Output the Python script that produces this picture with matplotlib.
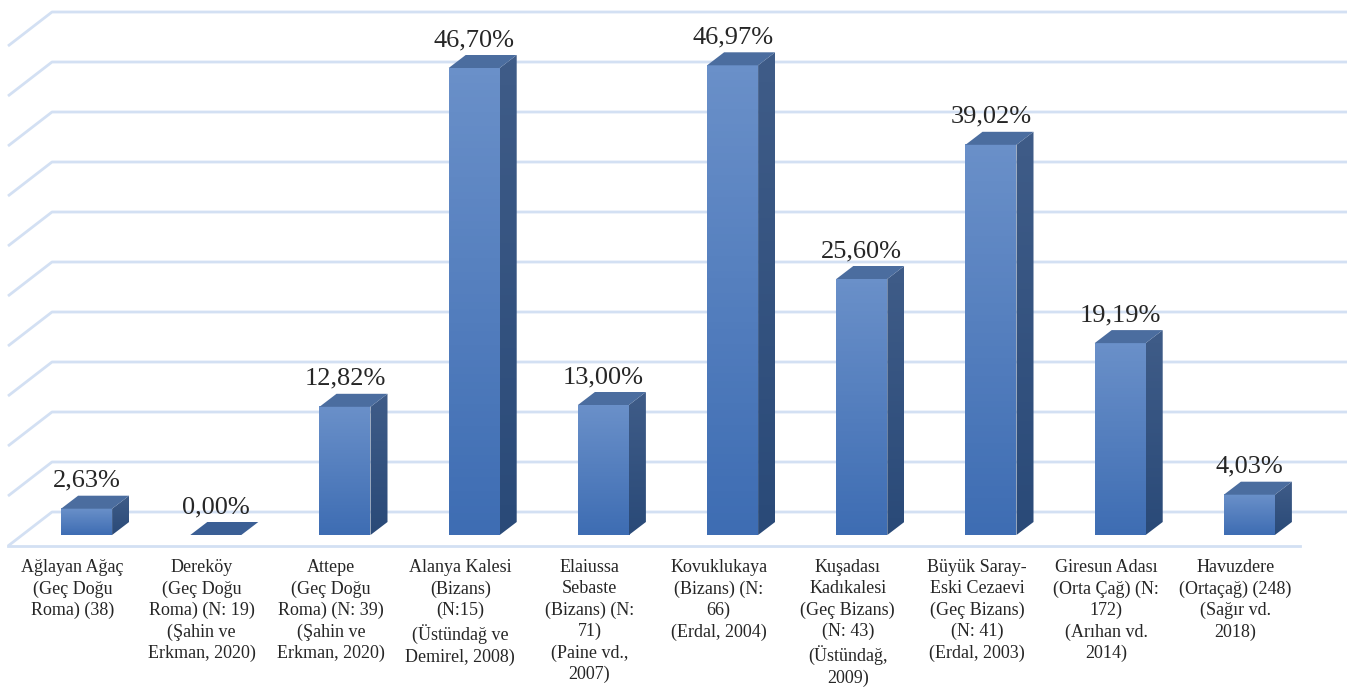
import numpy as np
import matplotlib.pyplot as plt
from matplotlib.patches import Polygon
from matplotlib.colors import LinearSegmentedColormap

categories = [
    "Ağlayan Ağaç\n(Geç Doğu\nRoma) (38)",
    "Dereköy\n(Geç Doğu\nRoma) (N: 19)\n(Şahin ve\nErkman, 2020)",
    "Attepe\n(Geç Doğu\nRoma) (N: 39)\n(Şahin ve\nErkman, 2020)",
    "Alanya Kalesi\n(Bizans)\n(N:15)\n(Üstündağ ve\nDemirel, 2008)",
    "Elaiussa\nSebaste\n(Bizans) (N:\n71)\n(Paine vd.,\n2007)",
    "Kovuklukaya\n(Bizans) (N:\n66)\n(Erdal, 2004)",
    "Kuşadası\nKadıkalesi\n(Geç Bizans)\n(N: 43)\n(Üstündağ,\n2009)",
    "Büyük Saray-\nEski Cezaevi\n(Geç Bizans)\n(N: 41)\n(Erdal, 2003)",
    "Giresun Adası\n(Orta Çağ) (N:\n172)\n(Arıhan vd.\n2014)",
    "Havuzdere\n(Ortaçağ) (248)\n(Sağır vd.\n2018)",
]
values = [2.63, 0.00, 12.82, 46.70, 13.00, 46.97, 25.60, 39.02, 19.19, 4.03]
labels = ["2,63%", "0,00%", "12,82%", "46,70%", "13,00%", "46,97%",
          "25,60%", "39,02%", "19,19%", "4,03%"]
grid_vals = np.arange(0, 55, 5)

# 1 category = 129.2 px, 1 % = 10 px
fig = plt.figure(figsize=(13.47, 6.91), dpi=100)
ax = fig.add_axes([0, 0, 1, 1])
ax.axis("off")

serif = ["Liberation Serif", "DejaVu Serif"]
grid_c = "#d3e0f3"
n = len(values)
wall_dx, wall_dy = 44 / 129.2, 3.4   # full depth of the floor
floor_y = -1.1
back_x0 = -0.5 + wall_dx

# back wall + left wall gridlines
for g in grid_vals:
    yb = floor_y + wall_dy + g
    ax.plot([-0.5, back_x0, 9.9], [yb - wall_dy, yb, yb], color=grid_c, lw=2,
            solid_capstyle="butt", zorder=1)
# floor front edge
ax.plot([-0.5, n - 0.5], [floor_y, floor_y], color=grid_c, lw=2, zorder=1)

# 3D bars
bw = 51 / 129.2
off = 14 / 129.2
ddx, ddy = 17 / 129.2, 1.3
grad = np.linspace(0, 1, 64).reshape(-1, 1)
cm = LinearSegmentedColormap.from_list("f", ["#3e6db3", "#6a90c9"])
cm2 = LinearSegmentedColormap.from_list("s", ["#2a4a78", "#3f5c88"])
for i, v in enumerate(values):
    x0 = i + off - bw / 2
    x1 = x0 + bw
    if v > 0:
        ax.imshow(grad, cmap=cm, origin="lower", aspect="auto",
                  extent=[x0, x1, 0, v], zorder=3)
        side = Polygon([[x1, 0], [x1 + ddx, ddy], [x1 + ddx, v + ddy], [x1, v]],
                       closed=True, facecolor="none", edgecolor="none")
        ax.add_patch(side)
        im2 = ax.imshow(grad, cmap=cm2, origin="lower", aspect="auto",
                        extent=[x1, x1 + ddx, 0, v + ddy], zorder=3)
        im2.set_clip_path(side)
        top = Polygon([[x0, v], [x0 + ddx, v + ddy], [x1 + ddx, v + ddy], [x1, v]],
                      closed=True, facecolor="#4b6d9f", edgecolor="none", zorder=4)
        ax.add_patch(top)
    else:
        top = Polygon([[x0, 0], [x0 + ddx, ddy], [x1 + ddx, ddy], [x1, 0]],
                      closed=True, facecolor="#3b5f95", edgecolor="none", zorder=4)
        ax.add_patch(top)
    ax.text(i + off, v + ddy + 0.4, labels[i], ha="center", va="bottom",
            fontsize=19, family=serif, color="#262626", zorder=5)

for i, c in enumerate(categories):
    ax.text(i, -2.4, c, ha="center", va="top", fontsize=13, family=serif,
            color="#262626", linespacing=1.32)

ax.set_xlim(-72.6 / 129.2, (1347 - 72.6) / 129.2)
ax.set_ylim(-15.6, 53.5)
fig.savefig("out.png", dpi=100)
